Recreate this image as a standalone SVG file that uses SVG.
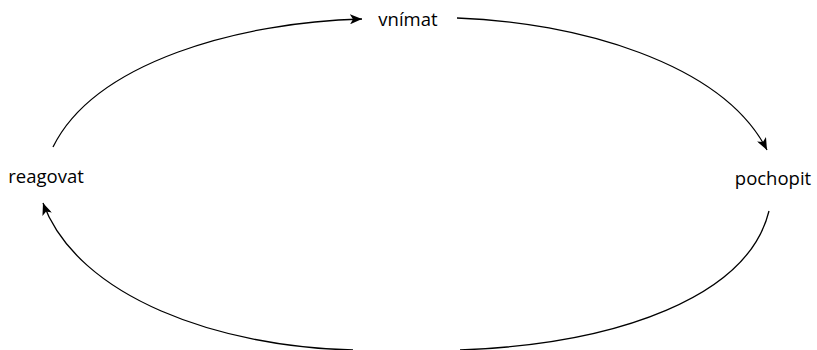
<svg xmlns="http://www.w3.org/2000/svg" width="817" height="350" viewBox="0 0 817 350">
<defs>
<marker id="ah" viewBox="0 0 12 10" refX="12" refY="5" markerWidth="12" markerHeight="10" markerUnits="userSpaceOnUse" orient="auto">
<path d="M0,0 L12,5 L0,10 L3,5 Z" fill="#000"/>
</marker>
<style>
.lbl{font-family:"Open Sans","Noto Sans",sans-serif;font-size:18.5px;fill:#000;text-anchor:middle}
.edge{fill:none;stroke:#000;stroke-width:1.3}
</style>
</defs>
<rect width="817" height="350" fill="#fff"/>
<g id="edges">
<path class="edge" d="M53,147 C95,62 240,22 362,19" marker-end="url(#ah)"/>
<path class="edge" d="M457,18 C575,22 722,62 767,150" marker-end="url(#ah)"/>
<path class="edge" d="M769,211 C748,296 620,344 460,350"/>
<path class="edge" d="M353,350 C220,347 78,298 43,203" marker-end="url(#ah)"/>
</g>
<g id="vnimat"><text class="lbl" x="408" y="26">vnímat</text></g>
<g id="pochopit"><text class="lbl" x="773" y="185">pochopit</text></g>
<g id="reagovat"><text class="lbl" x="46" y="183">reagovat</text></g>
</svg>
